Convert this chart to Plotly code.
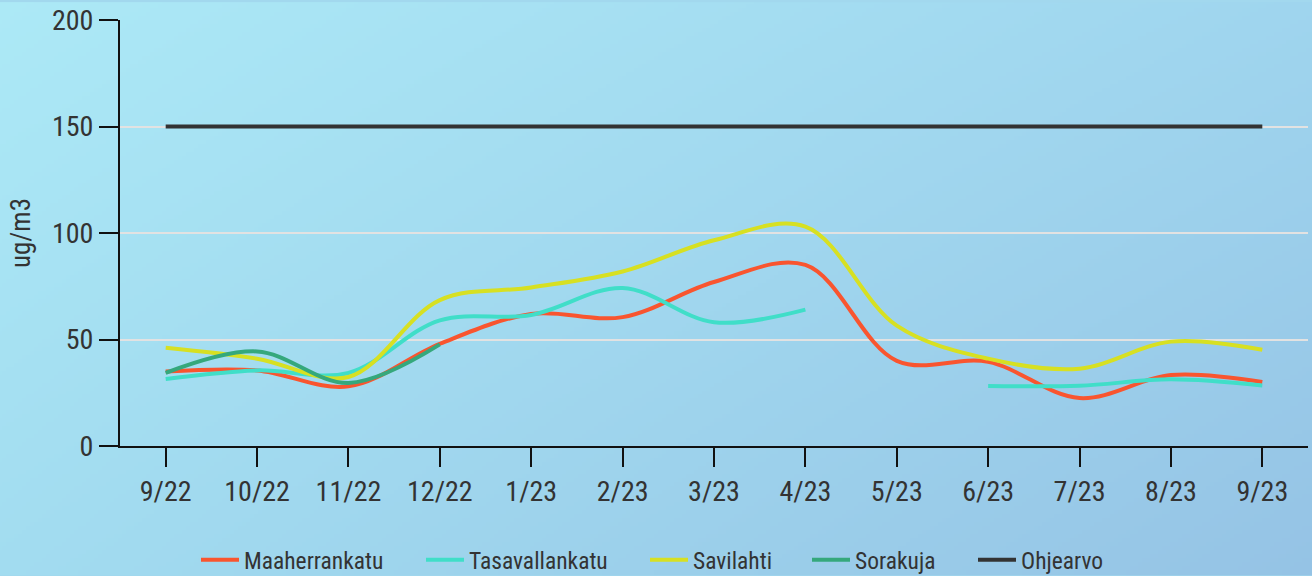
import base64
import struct
import zlib

import plotly.graph_objects as go

# ---------------- data ----------------
months = ["9/22", "10/22", "11/22", "12/22", "1/23", "2/23", "3/23",
          "4/23", "5/23", "6/23", "7/23", "8/23", "9/23"]

maaherrankatu = [35, 35.5, 28, 48, 62, 60.5, 77, 85, 40, 39.5, 22.5, 33.3, 30]
tasavallankatu = [31.5, 35.5, 34.3, 59, 61.5, 74.2, 58.1, 64, None, 28.2, 28.3, 31.3, 28.4]
savilahti = [46.1, 41, 32.4, 68.5, 74.4, 81.9, 96.6, 103, 56.5, 41, 36.3, 49, 45.2]
sorakuja = [34.3, 44.4, 29.6, 47.7, None, None, None, None, None, None, None, None, None]
ohjearvo = [150] * len(months)

y_ticks = [0, 50, 100, 150, 200]

# ---------------- styling ----------------
W, H = 1312, 576
M_L, M_R, M_T, M_B = 120, 4, 18, 130
PLOT_W = W - M_L - M_R
PLOT_H = H - M_T - M_B

FONT = "Roboto Condensed, Roboto, sans-serif"
TXT = "#333333"

TL, TR = (172, 233, 246), (159, 213, 238)
BL, BR = (162, 220, 240), (149, 195, 229)

# legend entry left edges (px, container)
LEGEND_X = [196, 421, 645, 807, 973]


def gradient_png(w, h):
    rows = []
    for j in range(h):
        v = j / (h - 1)
        row = bytearray([0])
        for i in range(w):
            u = i / (w - 1)
            px = []
            for c in range(3):
                top = TL[c] * (1 - u) + TR[c] * u
                bot = BL[c] * (1 - u) + BR[c] * u
                px.append(int(round(top * (1 - v) + bot * v)))
            row.extend(px)
        rows.append(bytes(row))
    raw = b"".join(rows)

    def chunk(tag, data):
        c = struct.pack(">I", len(data)) + tag + data
        return c + struct.pack(">I", zlib.crc32(tag + data) & 0xFFFFFFFF)

    png = b"\x89PNG\r\n\x1a\n"
    png += chunk(b"IHDR", struct.pack(">IIBBBBB", w, h, 8, 2, 0, 0, 0))
    png += chunk(b"IDAT", zlib.compress(raw, 9))
    png += chunk(b"IEND", b"")
    return "data:image/png;base64," + base64.b64encode(png).decode()


bg = gradient_png(328, 144)

series = [
    ("Maaherrankatu", maaherrankatu, "#F9552F", "spline"),
    ("Tasavallankatu", tasavallankatu, "#40DEC8", "spline"),
    ("Savilahti", savilahti, "#D7E022", "spline"),
    ("Sorakuja", sorakuja, "#35A87C", "spline"),
    ("Ohjearvo", ohjearvo, "#333333", "linear"),
]

fig = go.Figure()
legend_layouts = {}
for i, (name, vals, color, shape) in enumerate(series):
    lg = "legend" if i == 0 else f"legend{i + 1}"
    fig.add_trace(go.Scatter(
        x=months, y=vals, name=name, mode="lines",
        line=dict(color=color, width=4, shape=shape, smoothing=1),
        connectgaps=False, legend=lg,
    ))
    legend_layouts[lg] = dict(
        orientation="h", xref="container", yref="container",
        x=LEGEND_X[i] / W, xanchor="left", y=16 / H, yanchor="middle",
        font=dict(family=FONT, size=23.5, color=TXT),
        bgcolor="rgba(0,0,0,0)", itemwidth=38,
    )

fig.update_layout(
    width=W, height=H,
    margin=dict(l=M_L, r=M_R, t=M_T, b=M_B, pad=0),
    paper_bgcolor="#A2D8EE",
    plot_bgcolor="rgba(0,0,0,0)",
    font=dict(family=FONT, color=TXT, size=28),
    showlegend=True,
    images=[dict(
        source=bg, xref="paper", yref="paper",
        x=-M_L / PLOT_W, y=1 + M_T / PLOT_H,
        sizex=W / PLOT_W, sizey=H / PLOT_H,
        xanchor="left", yanchor="top", sizing="stretch", layer="below",
    )],
    **legend_layouts,
)

fig.update_xaxes(
    type="category", range=[-0.5, len(months) - 0.5],
    showline=True, linecolor="#111111", linewidth=2,
    ticks="outside", ticklen=19, tickwidth=2, tickcolor="#111111",
    showgrid=False, zeroline=False,
    tickfont=dict(family=FONT, size=28, color=TXT),
)
fig.update_yaxes(
    range=[0, 200], tickvals=y_ticks,
    showline=True, linecolor="#111111", linewidth=2,
    ticks="outside", ticklen=19, tickwidth=2, tickcolor="#111111",
    showgrid=True, gridcolor="#E2E2E2", gridwidth=2,
    zeroline=False,
    tickfont=dict(family=FONT, size=28, color=TXT),
    title=dict(text="ug/m3", font=dict(family=FONT, size=27, color=TXT), standoff=13),
)

fig.write_html(
    "out.html",
    config={"displayModeBar": False},
    post_script="document.body.style.margin='0';document.body.style.overflow='hidden';",
)
